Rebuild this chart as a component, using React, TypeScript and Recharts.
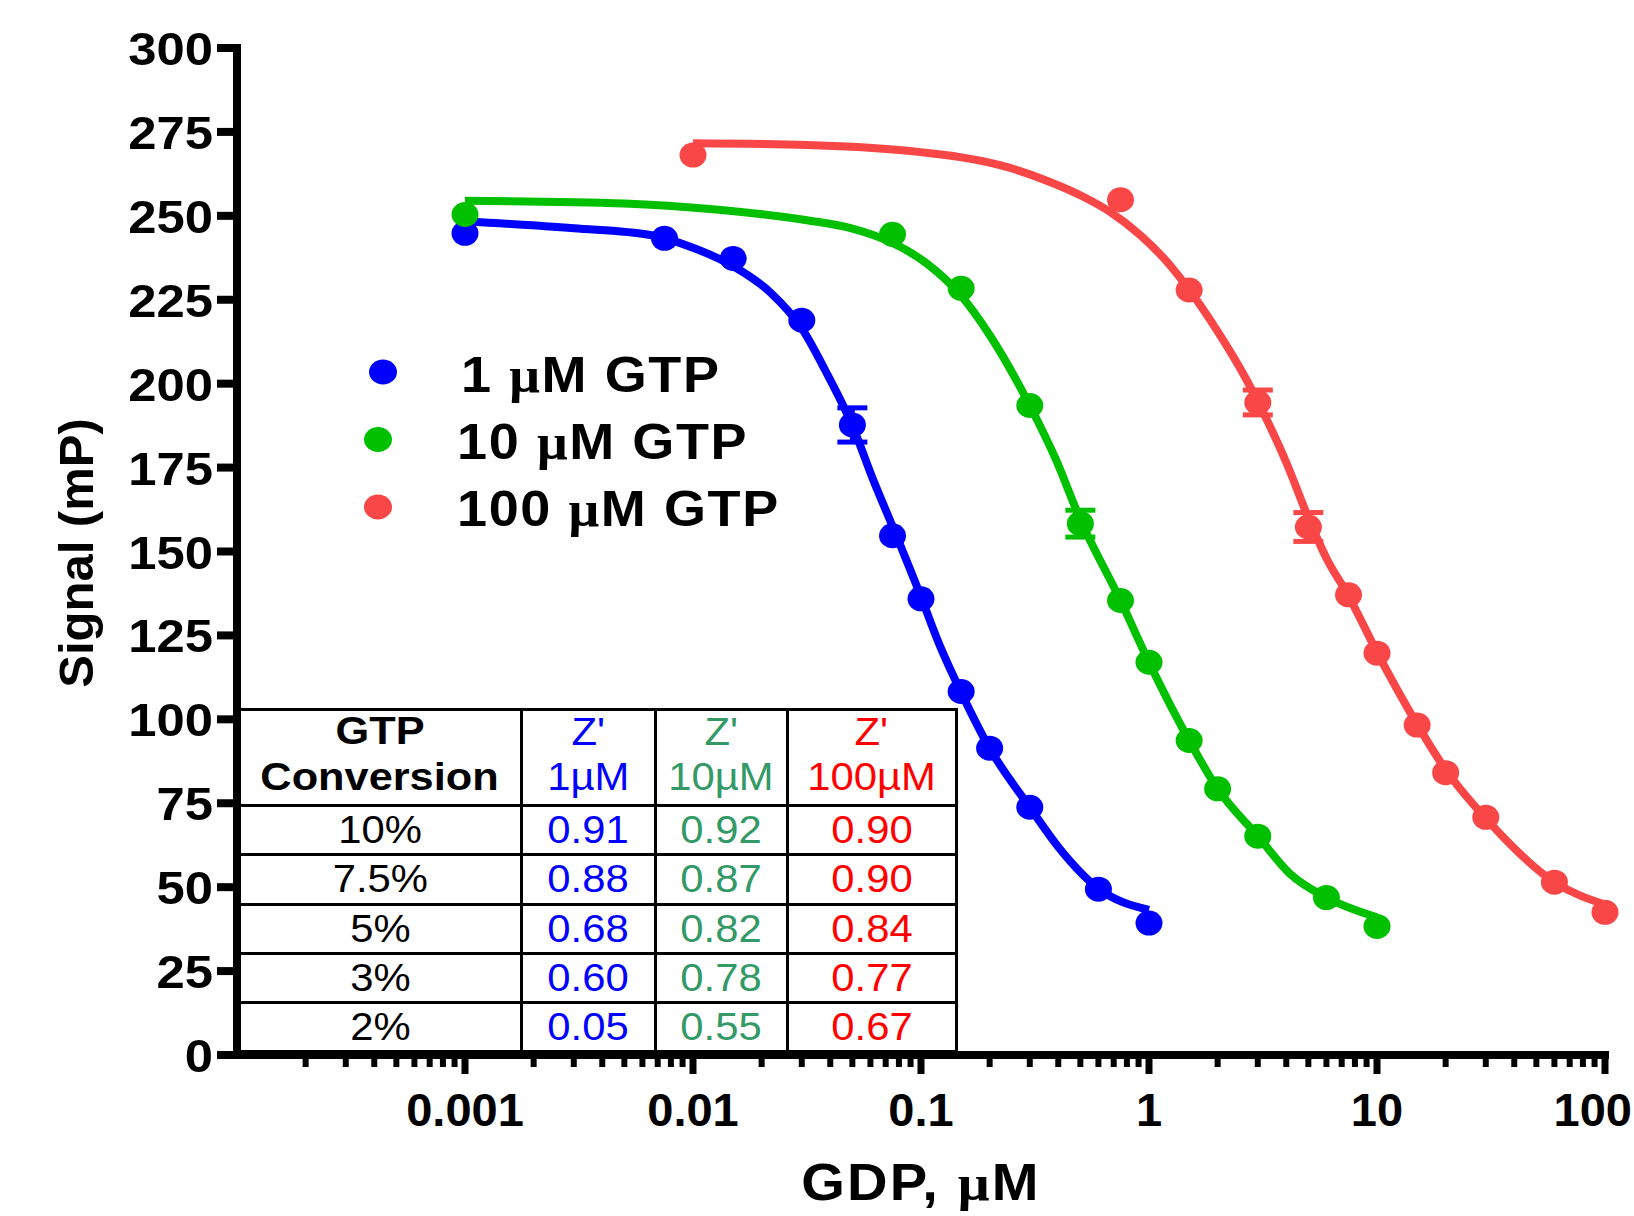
import React from 'react';
import { ComposedChart, Line, Scatter, XAxis, YAxis, ErrorBar } from 'recharts';

const FONT = '"Liberation Sans", Arial, Helvetica, sans-serif';
const SERIF = '"Liberation Serif", "DejaVu Serif", serif';

const BLUE = '#0000FF';
const GREEN = '#00C000';
const RED = '#F94646';
const TABLE_GREEN = '#339966';
const TABLE_RED = '#FF0000';

// measured points: GDP (µM) vs signal (mP)
const BLUE_X = [0.001, 0.0075, 0.015, 0.03, 0.05, 0.075, 0.1, 0.15, 0.2, 0.3, 0.6, 1];
const BLUE_Y = [244.8, 243.3, 237.3, 218.9, 187.7, 154.7, 135.9, 108.3, 91.4, 73.8, 49.4, 39.3];
const BLUE_ERR = [0, 0, 0, 0, 5.1, 0, 0, 0, 0, 0, 0, 0];

const GREEN_X = [0.001, 0.075, 0.15, 0.3, 0.5, 0.75, 1, 1.5, 2, 3, 6, 10];
const GREEN_Y = [250.4, 244.5, 228.4, 193.5, 158.3, 135.4, 117, 93.7, 79.3, 65.2, 46.9, 38.3];
const GREEN_ERR = [0, 0, 0, 0, 4.0, 0, 0, 0, 0, 0, 0, 0];

const RED_X = [0.01, 0.75, 1.5, 3, 5, 7.5, 10, 15, 20, 30, 60, 100];
const RED_Y = [268.1, 254.8, 227.9, 194.4, 157.3, 137.1, 119.7, 98.3, 84.1, 70.8, 51.5, 42.5];
const RED_ERR = [0, 0, 0, 3.7, 4.3, 0, 0, 0, 0, 0, 0, 0];

// fitted curves
const BLUE_FIT_X = [0.001, 0.003, 0.0065, 0.01, 0.015, 0.022, 0.03, 0.038, 0.05, 0.062, 0.075, 0.1, 0.12, 0.15, 0.2, 0.3, 0.4, 0.6, 1];
const BLUE_FIT_Y = [248.4, 246.3, 244.3, 240.5, 235, 227, 216.5, 204, 187.5, 171, 157.5, 136.5, 122.5, 108, 91.4, 73.8, 62, 49.6, 43.2];

const GREEN_FIT_X = [0.001, 0.005, 0.0126, 0.0316, 0.05, 0.073, 0.106, 0.147, 0.2, 0.3, 0.39, 0.5, 0.75, 1, 1.5, 2, 3, 4.15, 6, 10];
const GREEN_FIT_Y = [254.5, 253.7, 251.9, 248.7, 246.2, 242.3, 235.8, 226.9, 214.5, 193.5, 177.5, 159.5, 135.4, 117, 93.7, 79.3, 65.2, 54, 46.9, 41];

const RED_FIT_X = [0.01, 0.0316, 0.08, 0.16, 0.222, 0.368, 0.515, 0.675, 0.914, 1.2, 1.5, 1.98, 2.68, 3.3, 4.03, 5, 6, 7.5, 10, 15, 20, 30, 60, 100];
const RED_FIT_Y = [271.6, 271.1, 269.6, 267.1, 265.1, 260.1, 255.7, 251.2, 244.3, 236.3, 228, 216, 201.1, 189, 176, 160, 148, 136.8, 120, 98.5, 85, 70.5, 51.5, 44.8];

const Y_TICKS = [0, 25, 50, 75, 100, 125, 150, 175, 200, 225, 250, 275, 300];
const MAJOR_TICKS = [0.001, 0.01, 0.1, 1, 10, 100];
const MAJOR_LABELS = ['0.001', '0.01', '0.1', '1', '10', '100'];
const DECADES = [0.0001, 0.001, 0.01, 0.1, 1, 10];
const MULTS = [1, 2, 3, 4, 5, 6, 7, 8, 9];
const X_TICKS = DECADES.flatMap(d => MULTS.map(m => +(d * m).toPrecision(3)))
    .filter(v => v > 0.0001)
    .concat([100]);

// table
const CONVERSIONS = ['10%', '7.5%', '5%', '3%', '2%'];
const Z_1UM = ['0.91', '0.88', '0.68', '0.60', '0.05'];
const Z_10UM = ['0.92', '0.87', '0.82', '0.78', '0.55'];
const Z_100UM = ['0.90', '0.90', '0.84', '0.77', '0.67'];

const LEGEND = [
    { label: '1', color: BLUE },
    { label: '10', color: GREEN },
    { label: '100', color: RED },
];

const toPts = (xs: number[], ys: number[], errs?: number[]) =>
    xs.map((x, i) => ({ x, y: ys[i], err: errs ? errs[i] : 0 }));

const blueDots = toPts(BLUE_X, BLUE_Y, BLUE_ERR);
const greenDots = toPts(GREEN_X, GREEN_Y, GREEN_ERR);
const redDots = toPts(RED_X, RED_Y, RED_ERR);

const dotShape = (color: string) => (props: any) =>
    <ellipse cx={props.cx} cy={props.cy} rx={13.5} ry={12.5} fill={color} />;

const XTick = (props: any) => {
    const { x, y, payload } = props;
    const idx = MAJOR_TICKS.indexOf(payload.value);
    const major = idx >= 0;
    // the last label would run past the right edge, so right-align it
    const last = idx === MAJOR_TICKS.length - 1;
    return (
        <g>
            <line x1={x} x2={x} y1={y} y2={y + (major ? 19 : 12)} stroke="#000" strokeWidth={major ? 7 : 6} />
            {major && (
                <text
                    x={last ? 1632 : x}
                    y={y + 71}
                    textAnchor={last ? 'end' : 'middle'}
                    fontFamily={FONT}
                    fontWeight="bold"
                    fontSize={47}
                    fill="#000"
                >
                    {MAJOR_LABELS[idx]}
                </text>
            )}
        </g>
    );
};

const YTick = (props: any) => {
    const { x, y, payload } = props;
    return (
        <text
            transform={`translate(${x},${y}) scale(1.08,1)`}
            dy={17}
            textAnchor="end"
            fontFamily={FONT}
            fontWeight="bold"
            fontSize={47}
            fill="#000"
        >
            {payload.value}
        </text>
    );
};

const cell: React.CSSProperties = {
    border: '3px solid #000',
    padding: 0,
    textAlign: 'center',
    verticalAlign: 'middle',
    lineHeight: 1,
};

const Wide = ({ children, s = 1.1 }: { children: React.ReactNode; s?: number }) => (
    <span style={{ display: 'inline-block', transform: `scaleX(${s})` }}>{children}</span>
);

const ZTable = () => {
    const body = { ...cell, fontSize: 38 };
    return (
        <table
            style={{
                position: 'absolute', left: 237.5, top: 707.5, borderCollapse: 'collapse',
                tableLayout: 'fixed', width: 720, background: '#fff', fontFamily: FONT,
            }}
        >
            <colgroup>
                <col style={{ width: 282 }} />
                <col style={{ width: 134 }} />
                <col style={{ width: 132 }} />
                <col style={{ width: 169 }} />
            </colgroup>
            <tbody>
                <tr style={{ height: 96.5 }}>
                    <td style={{ ...cell, fontSize: 38, fontWeight: 'bold' }}>
                        <div style={{ lineHeight: '40px' }}><Wide s={1.14}>GTP</Wide></div>
                        <div style={{ lineHeight: '52px' }}><Wide s={1.14}>Conversion</Wide></div>
                    </td>
                    {[['1µM', BLUE], ['10µM', TABLE_GREEN], ['100µM', TABLE_RED]].map(([t, c]) => (
                        <td key={t} style={{ ...cell, fontSize: 38, color: c }}>
                            <div style={{ lineHeight: '40px' }}><Wide>Z'</Wide></div>
                            <div style={{ lineHeight: '50px' }}><Wide>{t}</Wide></div>
                        </td>
                    ))}
                </tr>
                {CONVERSIONS.map((c, i) => (
                    <tr key={c} style={{ height: 49.3 }}>
                        <td style={body}><Wide>{c}</Wide></td>
                        <td style={{ ...body, color: BLUE }}><Wide>{Z_1UM[i]}</Wide></td>
                        <td style={{ ...body, color: TABLE_GREEN }}><Wide>{Z_10UM[i]}</Wide></td>
                        <td style={{ ...body, color: TABLE_RED }}><Wide>{Z_100UM[i]}</Wide></td>
                    </tr>
                ))}
            </tbody>
        </table>
    );
};

export default function App() {
    return (
        <div style={{ position: 'absolute', left: 0, top: 0, width: 1634, height: 1216, background: '#fff' }}>
            <ComposedChart width={1634} height={1216} margin={{ top: 48, right: 29, bottom: 0, left: 0 }}>
                <XAxis
                    dataKey="x"
                    type="number"
                    scale="log"
                    domain={[0.0001, 100]}
                    ticks={X_TICKS}
                    interval={0}
                    height={161}
                    tickSize={0}
                    tickMargin={0}
                    tickLine={false}
                    tick={<XTick />}
                    axisLine={{ stroke: '#000', strokeWidth: 8, strokeLinecap: 'square' }}
                />
                <YAxis
                    dataKey="y"
                    type="number"
                    domain={[0, 300]}
                    ticks={Y_TICKS}
                    interval={0}
                    width={237}
                    tickSize={20}
                    tickMargin={4}
                    tickLine={{ stroke: '#000', strokeWidth: 8 }}
                    tick={<YTick />}
                    axisLine={{ stroke: '#000', strokeWidth: 8, strokeLinecap: 'square' }}
                />
                <Line data={toPts(BLUE_FIT_X, BLUE_FIT_Y)} dataKey="y" type="monotone" stroke={BLUE} strokeWidth={8} dot={false} activeDot={false} isAnimationActive={false} />
                <Line data={toPts(GREEN_FIT_X, GREEN_FIT_Y)} dataKey="y" type="monotone" stroke={GREEN} strokeWidth={8} dot={false} activeDot={false} isAnimationActive={false} />
                <Line data={toPts(RED_FIT_X, RED_FIT_Y)} dataKey="y" type="monotone" stroke={RED} strokeWidth={8} dot={false} activeDot={false} isAnimationActive={false} />

                <Scatter data={blueDots} shape={dotShape(BLUE)} isAnimationActive={false} />
                <Scatter data={greenDots} shape={dotShape(GREEN)} isAnimationActive={false} />
                <Scatter data={redDots} shape={dotShape(RED)} isAnimationActive={false} />

                <Scatter data={blueDots.filter(d => d.err > 0)} shape={() => <g />} isAnimationActive={false}>
                    <ErrorBar dataKey="err" direction="y" width={15} strokeWidth={5} stroke={BLUE} />
                </Scatter>
                <Scatter data={greenDots.filter(d => d.err > 0)} shape={() => <g />} isAnimationActive={false}>
                    <ErrorBar dataKey="err" direction="y" width={15} strokeWidth={5} stroke={GREEN} />
                </Scatter>
                <Scatter data={redDots.filter(d => d.err > 0)} shape={() => <g />} isAnimationActive={false}>
                    <ErrorBar dataKey="err" direction="y" width={15} strokeWidth={5} stroke={RED} />
                </Scatter>
            </ComposedChart>

            <ZTable />

            <svg width={1634} height={1216} style={{ position: 'absolute', left: 0, top: 0, pointerEvents: 'none' }}>
                <text transform="translate(93,553) rotate(-90)" textAnchor="middle" fontFamily={FONT} fontWeight="bold" fontSize={49}>
                    Signal (mP)
                </text>
                <text
                    transform="translate(921,1200) scale(1.1,1)"
                    textAnchor="middle"
                    fontFamily={FONT}
                    fontWeight="bold"
                    fontSize={51}
                    letterSpacing={2}
                >
                    GDP, <tspan fontFamily={SERIF}>μ</tspan>M
                </text>
                {LEGEND.map((l, i) => (
                    <g key={l.label}>
                        <ellipse cx={i === 0 ? 383 : 378} cy={372 + i * 67.5} rx={14} ry={12.5} fill={l.color} />
                        <text
                            transform={`translate(${i === 0 ? 461 : 457},${392 + i * 67}) scale(1.08,1)`}
                            fontFamily={FONT}
                            fontWeight="bold"
                            fontSize={50}
                            letterSpacing={1.5}
                        >
                            {l.label} <tspan fontFamily={SERIF}>μ</tspan>M GTP
                        </text>
                    </g>
                ))}
            </svg>
        </div>
    );
}
